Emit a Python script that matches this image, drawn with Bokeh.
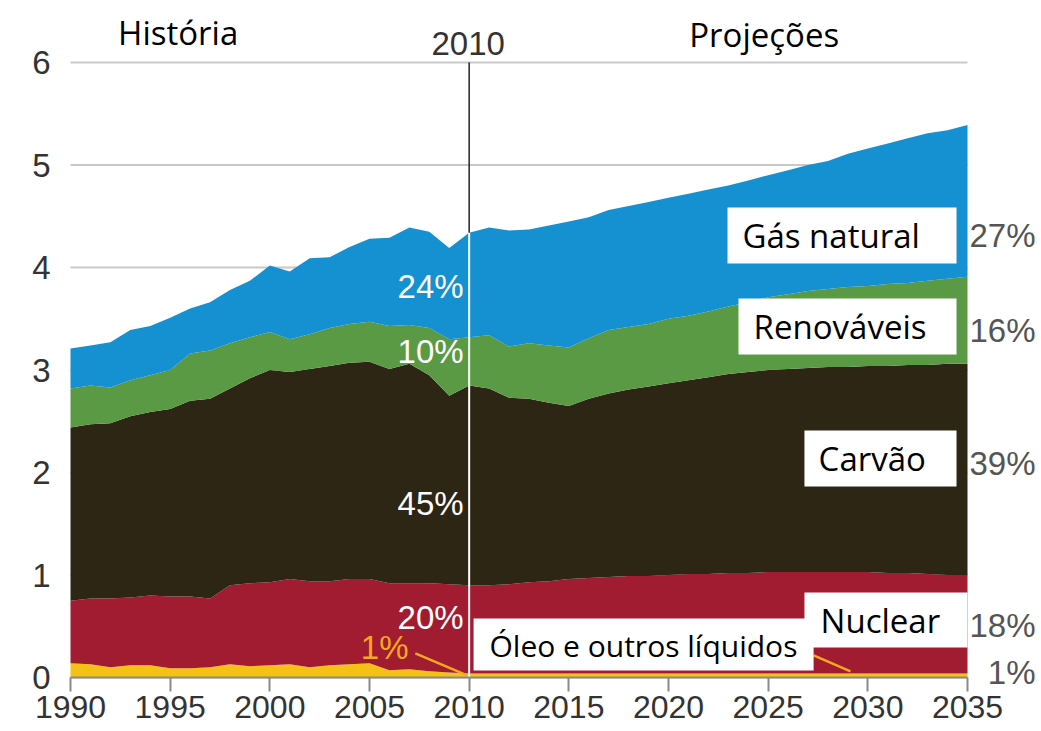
from bokeh.plotting import figure
from bokeh.models import ColumnDataSource, FixedTicker, Label, BoxAnnotation, Range1d
from bokeh.embed import file_html
from bokeh.resources import INLINE

# ---------------- data ----------------
years = [1990, 1991, 1992, 1993, 1994, 1995, 1996, 1997, 1998, 1999,
         2000, 2001, 2002, 2003, 2004, 2005, 2006, 2007, 2008, 2009,
         2010, 2011, 2012, 2013, 2014, 2015, 2016, 2017, 2018, 2019,
         2020, 2021, 2022, 2023, 2024, 2025, 2026, 2027, 2028, 2029,
         2030, 2031, 2032, 2033, 2034, 2035]

oleo = [0.14, 0.13, 0.10, 0.12, 0.12, 0.09, 0.09, 0.10, 0.13, 0.11,
        0.12, 0.13, 0.10, 0.12, 0.13, 0.14, 0.07, 0.08, 0.06, 0.05,
        0.04, 0.04, 0.04, 0.04, 0.04, 0.04, 0.04, 0.04, 0.04, 0.04,
        0.04, 0.04, 0.04, 0.04, 0.04, 0.04, 0.04, 0.04, 0.04, 0.04,
        0.04, 0.04, 0.04, 0.04, 0.04, 0.04]

nuclear = [0.61, 0.64, 0.67, 0.66, 0.68, 0.70, 0.70, 0.67, 0.77, 0.81,
           0.81, 0.83, 0.84, 0.82, 0.83, 0.82, 0.85, 0.84, 0.86, 0.86,
           0.86, 0.86, 0.87, 0.89, 0.90, 0.92, 0.93, 0.94, 0.95, 0.95,
           0.96, 0.97, 0.97, 0.98, 0.98, 0.99, 0.99, 0.99, 0.99, 0.99,
           0.99, 0.98, 0.98, 0.97, 0.96, 0.96]

carvao = [1.69, 1.70, 1.71, 1.77, 1.79, 1.83, 1.91, 1.95, 1.92, 2.00,
          2.07, 2.02, 2.07, 2.10, 2.11, 2.12, 2.09, 2.14, 2.03, 1.84,
          1.95, 1.92, 1.82, 1.79, 1.74, 1.69, 1.75, 1.79, 1.82, 1.85,
          1.87, 1.89, 1.92, 1.94, 1.96, 1.97, 1.98, 1.99, 2.00, 2.00,
          2.01, 2.02, 2.03, 2.04, 2.06, 2.06]

renovaveis = [0.38, 0.38, 0.35, 0.35, 0.36, 0.38, 0.46, 0.47, 0.44, 0.40,
              0.37, 0.32, 0.34, 0.37, 0.38, 0.39, 0.42, 0.38, 0.46, 0.55,
              0.47, 0.52, 0.50, 0.54, 0.56, 0.57, 0.59, 0.62, 0.61, 0.61,
              0.63, 0.63, 0.64, 0.66, 0.68, 0.71, 0.73, 0.75, 0.76, 0.78,
              0.78, 0.80, 0.80, 0.82, 0.83, 0.85]

gas_natural = [0.39, 0.39, 0.44, 0.49, 0.48, 0.51, 0.44, 0.47, 0.52, 0.55,
               0.65, 0.66, 0.74, 0.69, 0.75, 0.81, 0.86, 0.95, 0.94, 0.89,
               1.02, 1.05, 1.13, 1.11, 1.17, 1.23, 1.18, 1.17, 1.18, 1.19,
               1.18, 1.19, 1.19, 1.18, 1.19, 1.19, 1.21, 1.23, 1.25, 1.30,
               1.34, 1.37, 1.41, 1.44, 1.45, 1.48]

x_ticks = [1990, 1995, 2000, 2005, 2010, 2015, 2020, 2025, 2030, 2035]
y_ticks = [0, 1, 2, 3, 4, 5, 6]

series_names = ["Óleo e outros líquidos", "Nuclear", "Carvão", "Renováveis", "Gás natural"]
share_2010 = ["1%", "20%", "45%", "10%", "24%"]
share_2035 = ["1%", "18%", "39%", "16%", "27%"]

colors = ["#f6c115", "#a21c31", "#2d2615", "#5a9a45", "#1590d0"]

# ---------------- figure ----------------
W, H = 1041, 731
PX_YR = 897 / 45.0       # pixels per year
PX_UNIT = 615 / 6.0      # pixels per unit
LEFT_PX, ZERO_PX = 70, 677

p = figure(width=W, height=H, output_backend="svg", toolbar_location=None,
           x_range=Range1d(1990 - LEFT_PX / PX_YR, 1990 + (W - LEFT_PX) / PX_YR),
           y_range=Range1d(-(H - ZERO_PX) / PX_UNIT, ZERO_PX / PX_UNIT),
           min_border_left=0, min_border_right=0, min_border_top=0, min_border_bottom=0)
p.outline_line_color = None
p.background_fill_color = "white"
p.border_fill_color = "white"
p.xgrid.visible = False
p.ygrid.visible = False

# grid lines limited to the data extent
p.segment(x0=[x_ticks[0]] * len(y_ticks), x1=[x_ticks[-1]] * len(y_ticks),
          y0=y_ticks, y1=y_ticks, line_color="#c9c9c9", line_width=2, level="underlay")

src = ColumnDataSource(dict(year=years, oleo=oleo, nuclear=nuclear, carvao=carvao,
                            renovaveis=renovaveis, gas=gas_natural))
p.varea_stack(stackers=["oleo", "nuclear", "carvao", "renovaveis", "gas"], x="year",
              color=colors, source=src)

# axes
p.xaxis.fixed_location = 0
p.yaxis.fixed_location = 1990
p.xaxis.bounds = (x_ticks[0], x_ticks[-1])
p.yaxis.bounds = (y_ticks[0], y_ticks[-1])
p.xaxis.ticker = FixedTicker(ticks=x_ticks)
p.yaxis.ticker = FixedTicker(ticks=y_ticks)

p.xaxis.axis_line_color = "#8a8a8a"
p.xaxis.axis_line_width = 2
p.xaxis.major_tick_line_color = "#8a8a8a"
p.xaxis.major_tick_line_width = 2
p.xaxis.major_tick_in = 0
p.xaxis.major_tick_out = 14
p.xaxis.minor_tick_line_color = None
p.xaxis.major_label_text_font = "Liberation Sans"
p.xaxis.major_label_text_font_size = "32px"
p.xaxis.major_label_text_color = "#333333"
p.xaxis.major_label_standoff = 4

p.yaxis.axis_line_color = None
p.yaxis.major_tick_line_color = None
p.yaxis.minor_tick_line_color = None
p.yaxis.major_label_text_font = "Liberation Sans"
p.yaxis.major_label_text_font_size = "33px"
p.yaxis.major_label_text_color = "#333333"
p.yaxis.major_label_standoff = 14

# 2010 divider line
i2010 = years.index(2010)
top2010 = oleo[i2010] + nuclear[i2010] + carvao[i2010] + renovaveis[i2010] + gas_natural[i2010]
p.segment(x0=[2010], y0=[0], x1=[2010], y1=[top2010], line_color="white", line_width=2)
p.segment(x0=[2010], y0=[top2010], x1=[2010], y1=[y_ticks[-1]], line_color="#222222",
          line_width=1.5)

# header texts
p.add_layout(Label(x=1995.4, y=6.29, text="História", text_align="center",
                   text_baseline="middle", text_font="Open Sans",
                   text_font_size="33px", text_color="black"))
p.add_layout(Label(x=2024.8, y=6.27, text="Projeções", text_align="center",
                   text_baseline="middle", text_font="Open Sans",
                   text_font_size="33px", text_color="black"))
p.add_layout(Label(x=2009.95, y=6.19, text="2010", text_align="center",
                   text_baseline="middle", text_font="Liberation Sans",
                   text_font_size="33px", text_color="#333333"))

# shares at 2010 (inside, white) -- oil one orange
inner_y = [0.29, 0.59, 1.70, 3.18, 3.81]
for k in range(1, 5):
    p.add_layout(Label(x=2009.72, y=inner_y[k], text=share_2010[k], text_align="right",
                       text_baseline="middle", text_font="Liberation Sans",
                       text_font_size="33px", text_color="white"))
p.add_layout(Label(x=2006.96, y=inner_y[0], text=share_2010[0], text_align="right",
                   text_baseline="middle", text_font="Liberation Sans",
                   text_font_size="33px", text_color="#f2a91d"))
p.line(x=[2007.3, 2009.9], y=[0.235, 0.02], line_color="#f2a91d", line_width=2.5)

# shares at 2035 (right, gray)
right_y = [0.05, 0.51, 2.09, 3.39, 4.31]
for k in range(5):
    p.add_layout(Label(x=2038.41, y=right_y[k], text=share_2035[k],
                       text_align="right", text_baseline="middle",
                       text_font="Liberation Sans", text_font_size="33px",
                       text_color="#555555"))

# white name boxes
boxes = [  # left, right, bottom, top for each series name
    (2010.22, 2027.28, 0.068, 0.576),
    (2026.82, 2035.00, 0.293, 0.829),
    (2026.82, 2034.45, 1.863, 2.410),
    (2023.51, 2034.45, 3.151, 3.698),
    (2022.96, 2034.45, 4.039, 4.585),
]
name_pos = [(2011.02, 0.312), (2027.63, 0.556), (2027.53, 2.137),
            (2024.27, 3.424), (2023.71, 4.312)]
name_size = ["30px", "33px", "33px", "33px", "33px"]

p.line(x=[2027.28, 2029.13], y=[0.215, 0.059], line_color="#f2a91d", line_width=2.5)

for k in [1, 0, 2, 3, 4]:
    l, r, b, t = boxes[k]
    p.add_layout(BoxAnnotation(left=l, right=r, bottom=b, top=t, fill_color="white",
                               fill_alpha=1.0, line_color=None))
for k in [1, 0, 2, 3, 4]:
    x, y = name_pos[k]
    p.add_layout(Label(x=x, y=y, text=series_names[k], text_align="left",
                       text_baseline="middle", text_font="Open Sans",
                       text_font_size=name_size[k], text_color="black"))

open("out.html", "w").write(file_html(p, INLINE))
